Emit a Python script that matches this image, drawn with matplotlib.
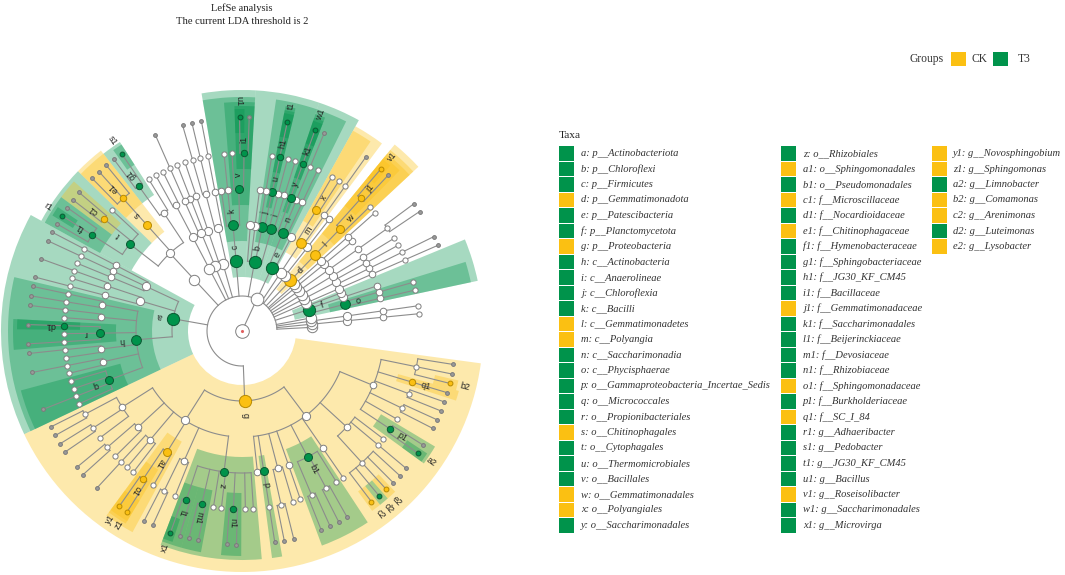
import numpy as np
import matplotlib
matplotlib.use("Agg")
import matplotlib.pyplot as plt
from matplotlib.patches import Wedge, Rectangle

# ---------------- data ----------------
TITLE_LINES = ["LefSe analysis", "The current LDA threshold is 2"]
GROUPS = ["CK", "T3"]
GROUP_COLORS = {"CK": "#FBC012", "T3": "#00934B"}
GROUP_EDGES = {"CK": "#B88A00", "T3": "#0A5A32"}

TAXA_KEYS = ["a", "b", "c", "d", "e", "f", "g", "h", "i", "j", "k", "l", "m",
             "n", "o", "p", "q", "r", "s", "t", "u", "v", "w", "x", "y",
             "z", "a1", "b1", "c1", "d1", "e1", "f1", "g1", "h1", "i1", "j1",
             "k1", "l1", "m1", "n1", "o1", "p1", "q1", "r1", "s1", "t1", "u1",
             "v1", "w1", "x1", "y1", "z1", "a2", "b2", "c2", "d2", "e2"]
TAXA_NAMES = ["p__Actinobacteriota", "p__Chloroflexi", "p__Firmicutes",
              "p__Gemmatimonadota", "p__Patescibacteria", "p__Planctomycetota",
              "p__Proteobacteria", "c__Actinobacteria", "c__Anaerolineae",
              "c__Chloroflexia", "c__Bacilli", "c__Gemmatimonadetes",
              "c__Polyangia", "c__Saccharimonadia", "c__Phycisphaerae",
              "o__Gammaproteobacteria_Incertae_Sedis", "o__Micrococcales",
              "o__Propionibacteriales", "o__Chitinophagales", "o__Cytophagales",
              "o__Thermomicrobiales", "o__Bacillales", "o__Gemmatimonadales",
              "o__Polyangiales", "o__Saccharimonadales",
              "o__Rhizobiales", "o__Sphingomonadales", "o__Pseudomonadales",
              "f__Microscillaceae", "f__Nocardioidaceae", "f__Chitinophagaceae",
              "f__Hymenobacteraceae", "f__Sphingobacteriaceae", "f__JG30_KF_CM45",
              "f__Bacillaceae", "f__Gemmatimonadaceae", "f__Saccharimonadales",
              "f__Beijerinckiaceae", "f__Devosiaceae", "f__Rhizobiaceae",
              "f__Sphingomonadaceae", "f__Burkholderiaceae", "f__SC_I_84",
              "g__Adhaeribacter", "g__Pedobacter", "g__JG30_KF_CM45",
              "g__Bacillus", "g__Roseisolibacter", "g__Saccharimonadales",
              "g__Microvirga", "g__Novosphingobium", "g__Sphingomonas",
              "g__Limnobacter", "g__Comamonas", "g__Arenimonas",
              "g__Luteimonas", "g__Lysobacter"]
TAXA_GROUPS = ["T3", "T3", "T3", "CK", "T3", "T3", "CK", "T3", "T3", "T3",
               "T3", "CK", "CK", "T3", "T3", "T3", "T3", "T3", "CK", "T3",
               "T3", "T3", "CK", "CK", "T3",
               "T3", "CK", "T3", "CK", "T3", "CK", "T3", "T3", "T3", "T3",
               "CK", "T3", "T3", "T3", "T3", "CK", "T3", "CK", "T3", "T3",
               "T3", "T3", "CK", "T3", "T3",
               "CK", "CK", "T3", "CK", "CK", "T3", "CK"]
LEGEND_ROWS = [25, 25, 7]

# cladogram: one nested string per phylum, counter-clockwise order
# "(...)" internal node, "." unnamed leaf, letters = biomarker key
PHYLA = [
    ".",
    "(((.)))",
    "(((.)))",
    ".",
    "(((.),(.))o,(.),.)f",
    "((((.))))",
    "((((.)),(.)))",
    "(((.)))",
    "((((.,.))))",
    "((.))",
    "(((.)))",
    "(((.,(.,v1)j1)w)l)d",
    "((.))",
    "((((.)),(.,.)x)m)",
    "(.,((.),((.)),((w1)k1)y)n)e",
    "(((.),(.))i,(((t1)h1)u,(.))j,(.),.)b",
    "((((.,u1)i1,.)v,(.),.)k)c",
    "((((.)),((.),(.))),((.)))",
    "(((.),((.))))",
    "(((.,.)))",
    "(((.,(s1,.)g1),((.,.,.)e1)s,(.,(.,.)c1,(.,r1,.)f1)t))",
    "((((.)),((.)),(.)),(((.),.),((.))),(((.),(.)),((.),.),((.)d1,.,(.))r,"
    "((.),.),((.),.),(.,.,(.),.)q)h)a",
    "((((.,.),(.,.),.),((.,.),.),((.),.,.),((y1,z1)o1,.)a1,((.,.),.),"
    "((x1,.)l1,(.,.)m1,.,.,(.,.)n1,.,.)z),"
    "(.,((.))p,((.,.),.),(.),((.,.),(.,.),.)b1,(.),((c2,d2,e2,.,.),(.),.),"
    "((a2,.)p1,.,(.,.),(.,.),(.)q1,(b2,.,.))))g",
]

# ---------------- layout constants ----------------
W, H = 1065, 575
CX, CY = 242, H - 331
RADII = [0, 35, 70, 106, 142, 178, 214]
OUTER = {2: 241, 3: 234, 4: 229, 5: 225, 6: 222}
START_ANG, END_ANG = 3.0, 351.0
KINGDOM_ANG = 65.0
NODE_R = {1: 6.3, 2: 5.2, 3: 4.1, 4: 3.3, 5: 2.6, 6: 1.9}
LINE_C = "#8C8C8C"
GROUP_OF = dict(zip(TAXA_KEYS, TAXA_GROUPS))


def parse(s, depth):
    pos = 0

    def node(d):
        nonlocal pos
        children = []
        if s[pos] == "(":
            pos += 1
            while True:
                children.append(node(d + 1))
                if s[pos] == ",":
                    pos += 1
                elif s[pos] == ")":
                    pos += 1
                    break
            j = pos
            while j < len(s) and s[j].isalnum():
                j += 1
            label = s[pos:j]
            pos = j
        elif s[pos] == ".":
            pos += 1
            label = ""
        else:
            j = pos
            while j < len(s) and s[j].isalnum():
                j += 1
            label = s[pos:j]
            pos = j
        return {"label": label, "children": children, "depth": d}

    return node(depth)


phyla = [parse(p, 2) for p in PHYLA]
kingdom = {"label": "", "children": phyla, "depth": 1}

leaves = []


def collect(n):
    if not n["children"]:
        leaves.append(n)
    for c in n["children"]:
        collect(c)


collect(kingdom)
step = (END_ANG - START_ANG) / (len(leaves) - 1)
for i, lf in enumerate(leaves):
    lf["angle"] = START_ANG + i * step


def place(n):
    if n["children"]:
        for c in n["children"]:
            place(c)
        n["angle"] = 0.5 * (n["children"][0]["angle"] + n["children"][-1]["angle"])
        n["amin"] = n["children"][0]["amin"]
        n["amax"] = n["children"][-1]["amax"]
    else:
        n["amin"] = n["amax"] = n["angle"]


place(kingdom)
kingdom["angle"] = KINGDOM_ANG

all_nodes = []


def walk(n):
    all_nodes.append(n)
    for c in n["children"]:
        walk(c)


walk(kingdom)


def pol(r, a):
    t = np.deg2rad(a)
    return CX + r * np.cos(t), CY + r * np.sin(t)


fig = plt.figure(figsize=(W / 100, H / 100), dpi=100)
ax = fig.add_axes([0, 0, 1, 1])
ax.set_xlim(0, W)
ax.set_ylim(0, H)
ax.axis("off")

# ---- highlight sectors ----
sig = [n for n in all_nodes if n["label"]]
for n in sorted(sig, key=lambda q: q["depth"]):
    g = GROUP_OF[n["label"]]
    d = n["depth"]
    r_in = RADII[d] - 16
    r_out = OUTER[d]
    ax.add_patch(Wedge((CX, CY), r_out, n["amin"] - 0.5 * step,
                       n["amax"] + 0.5 * step, width=r_out - r_in,
                       facecolor=GROUP_COLORS[g], alpha=0.35, lw=0, zorder=1))

# ---- branches ----
x0, y0 = pol(RADII[1], KINGDOM_ANG)
ax.plot([CX, x0], [CY, y0], color=LINE_C, lw=0.8, zorder=2)
for n in all_nodes:
    if not n["children"]:
        continue
    r = RADII[n["depth"]]
    angs = [c["angle"] for c in n["children"]] + [n["angle"]]
    a1, a2 = min(angs), max(angs)
    if a2 > a1:
        tt = np.linspace(a1, a2, max(4, int((a2 - a1) * 2)))
        xs, ys = pol(r, tt)
        ax.plot(xs, ys, color=LINE_C, lw=0.8, zorder=2)
    for c in n["children"]:
        xa, ya = pol(r, c["angle"])
        xb, yb = pol(RADII[c["depth"]], c["angle"])
        ax.plot([xa, xb], [ya, yb], color=LINE_C, lw=0.8, zorder=2)

# ---- nodes ----
for n in all_nodes:
    d = n["depth"]
    x, y = pol(RADII[d], n["angle"])
    rr = NODE_R[d]
    if n["label"]:
        g = GROUP_OF[n["label"]]
        fc, ec = GROUP_COLORS[g], GROUP_EDGES[g]
        rr = rr * 1.12 + 0.3
    elif d == 6:
        fc, ec = "#9A9A9A", "#7A7A7A"
    else:
        fc, ec = "white", "#7F7F7F"
    ax.scatter([x], [y], s=(2 * rr * 0.72) ** 2, facecolor=fc, edgecolor=ec,
               linewidths=0.7, zorder=3)
ax.scatter([CX], [CY], s=(2 * 6.8 * 0.72) ** 2, facecolor="white",
           edgecolor="#7F7F7F", linewidths=0.7, zorder=3)
ax.scatter([CX], [CY], s=1.5, color="#E06060", zorder=4)

# ---- node labels ----
for n in sig:
    d = n["depth"]
    a = n["angle"]
    if d == 6:
        x, y = pol(230, a)
        rot = a if (a % 360 < 90 or a % 360 > 270) else a - 180
    else:
        x, y = pol(RADII[d] + 14, a)
        rot = a
    ax.text(x, y, n["label"], fontsize=6.5, family="Liberation Sans",
            color="#222222", ha="center", va="center", rotation=rot,
            rotation_mode="anchor", zorder=5)

# ---- title ----
ax.text(CX, H - 8, TITLE_LINES[0], family="Liberation Serif", fontsize=7.6,
        ha="center", va="center", color="#222222")
ax.text(CX, H - 22, TITLE_LINES[1], family="Liberation Serif", fontsize=7.6,
        ha="center", va="center", color="#222222")

# ---- groups legend ----
gy = H - 59
ax.text(944, gy, "Groups", family="Liberation Serif", fontsize=8.3,
        ha="right", va="center", color="#333333")
gx = [951, 993]
tx = [972, 1018]
for gname, sx, txx in zip(GROUPS, gx, tx):
    ax.add_patch(Rectangle((sx, gy - 7), 15, 14, facecolor=GROUP_COLORS[gname],
                           edgecolor="none"))
    ax.text(txx, gy, gname, family="Liberation Serif", fontsize=8.3,
            ha="left", va="center", color="#333333")

# ---- taxa legend ----
ax.text(559, H - 135, "Taxa", family="Liberation Serif", fontsize=8.2,
        ha="left", va="center", color="#222222")
col_sq = [559, 781, 932]
col_tx = [581, 803, 953]
k = 0
for ci, nrow in enumerate(LEGEND_ROWS):
    for ri in range(nrow):
        key, name, grp = TAXA_KEYS[k], TAXA_NAMES[k], TAXA_GROUPS[k]
        yy = H - (153.5 + 15.5 * ri)
        ax.add_patch(Rectangle((col_sq[ci], yy - 7.2), 14.5, 14.4,
                               facecolor=GROUP_COLORS[grp], edgecolor="none"))
        ax.text(col_tx[ci], yy, f"{key}: {name}", family="Liberation Serif",
                style="italic", fontsize=7.6, ha="left", va="center",
                color="#333333")
        k += 1

fig.savefig("out.png", dpi=100)
